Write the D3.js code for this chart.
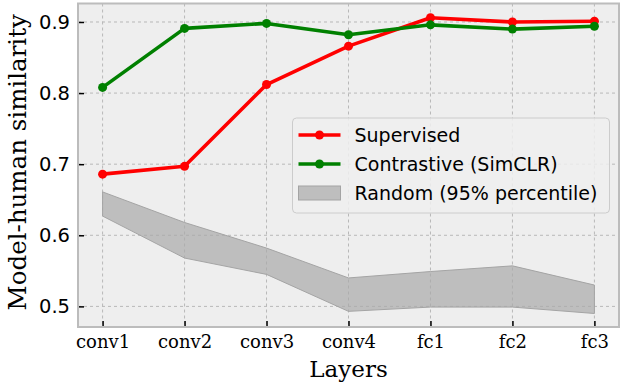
<!DOCTYPE html>
<html lang="en">
<head>
  <meta charset="UTF-8">
  <title>Model-human similarity by layer</title>
  <style>
    body { margin: 0; background: #fff; }
    .grid line { stroke: #b8b8b8; stroke-dasharray: 3,3; stroke-width: 1; }
    .tick line { stroke: #000; stroke-width: 1.5; }
    .domain { display: none; }
    .ytick text { font-family: "DejaVu Sans", sans-serif; font-size: 19.5px; fill: #000; }
    .xtick text { font-family: "DejaVu Serif", serif; font-size: 18px; fill: #000; }
    .label { font-family: "DejaVu Serif", serif; font-size: 23px; fill: #000; }
    .ylabel { font-size: 24.5px; }
    .legend text { font-family: "DejaVu Sans", sans-serif; font-size: 19px; fill: #000; }
  </style>
</head>
<body>
  <script src="https://d3js.org/d3.v7.min.js"></script>
  <script>
    // data
    const layers = ['conv1', 'conv2', 'conv3', 'conv4', 'fc1', 'fc2', 'fc3'];
    const supervised = [0.686, 0.697, 0.812, 0.866, 0.906, 0.900, 0.901];
    const contrastive = [0.808, 0.891, 0.898, 0.882, 0.896, 0.890, 0.894];
    const randomUpper = [0.661, 0.618, 0.582, 0.540, 0.549, 0.557, 0.530];
    const randomLower = [0.627, 0.568, 0.545, 0.493, 0.499, 0.499, 0.490];
    const yTicks = [0.5, 0.6, 0.7, 0.8, 0.9];

    const W = 624, H = 392;
    const margin = {top: 3.5, right: 5, bottom: 65, left: 78};
    const innerW = W - margin.left - margin.right;
    const innerH = H - margin.top - margin.bottom;

    const svg = d3.select('body').append('svg')
      .attr('width', W).attr('height', H);

    const x = d3.scaleLinear().domain([-0.3, 6.3]).range([0, innerW]);
    const y = d3.scaleLinear().domain([0.471, 0.926]).range([innerH, 0]);

    const g = svg.append('g').attr('transform', `translate(${margin.left},${margin.top})`);

    // background
    g.append('rect').attr('width', innerW).attr('height', innerH).attr('fill', '#eeeeee');

    // grid
    const grid = g.append('g').attr('class', 'grid');
    grid.selectAll('.gx').data(layers).enter().append('line')
      .attr('x1', (d, i) => x(i)).attr('x2', (d, i) => x(i))
      .attr('y1', 0).attr('y2', innerH);
    grid.selectAll('.gy').data(yTicks).enter().append('line')
      .attr('x1', 0).attr('x2', innerW)
      .attr('y1', d => y(d)).attr('y2', d => y(d));

    // random band
    const area = d3.area()
      .x((d, i) => x(i))
      .y0((d, i) => y(randomLower[i]))
      .y1(d => y(d));
    g.append('path').datum(randomUpper)
      .attr('d', area)
      .attr('fill', 'rgb(170,170,170)').attr('fill-opacity', 0.7)
      .attr('stroke', '#a4a4a4').attr('stroke-width', 1);

    // lines
    const line = d3.line().x((d, i) => x(i)).y(d => y(d));
    function drawSeries (data, color) {
      g.append('path').datum(data)
        .attr('d', line).attr('fill', 'none')
        .attr('stroke', color).attr('stroke-width', 3.6)
        .attr('stroke-linejoin', 'round');
      g.selectAll(null).data(data).enter().append('circle')
        .attr('cx', (d, i) => x(i)).attr('cy', d => y(d))
        .attr('r', 4.5).attr('fill', color);
    }
    drawSeries(supervised, '#ff0000');
    drawSeries(contrastive, '#008000');

    // axes (ticks inward)
    const xAxis = d3.axisBottom(x).tickValues(d3.range(layers.length))
      .tickFormat(i => layers[i]).tickSize(-6).tickPadding(8);
    g.append('g').attr('class', 'xtick')
      .attr('transform', `translate(0,${innerH})`).call(xAxis);

    const yAxis = d3.axisLeft(y).tickValues(yTicks)
      .tickFormat(d3.format('.1f')).tickSize(-6).tickPadding(8);
    g.append('g').attr('class', 'ytick').call(yAxis);

    // frame
    g.append('rect').attr('width', innerW).attr('height', innerH)
      .attr('fill', 'none').attr('stroke', '#bcbcbc').attr('stroke-width', 2);

    // axis labels
    svg.append('text').attr('class', 'label')
      .attr('x', margin.left + innerW / 2).attr('y', 377)
      .attr('text-anchor', 'middle').text('Layers');
    svg.append('text').attr('class', 'label ylabel')
      .attr('transform', `translate(26,${margin.top + innerH / 2 - 3}) rotate(-90)`)
      .attr('text-anchor', 'middle').text('Model-human similarity');

    // legend
    const lg = svg.append('g').attr('class', 'legend').attr('transform', 'translate(292.5,118)');
    lg.append('rect').attr('width', 317).attr('height', 95).attr('rx', 4)
      .attr('fill', '#efefef').attr('fill-opacity', 0.85)
      .attr('stroke', '#cccccc').attr('stroke-width', 1);
    const items = [
      {name: 'Supervised', color: '#ff0000', type: 'line'},
      {name: 'Contrastive (SimCLR)', color: '#008000', type: 'line'},
      {name: 'Random (95% percentile)', color: 'rgb(170,170,170)', type: 'patch'}
    ];
    items.forEach((it, i) => {
      const cy = 17 + i * 29;
      if (it.type === 'line') {
        lg.append('line').attr('x1', 6).attr('x2', 48).attr('y1', cy).attr('y2', cy)
          .attr('stroke', it.color).attr('stroke-width', 3.6);
        lg.append('circle').attr('cx', 27).attr('cy', cy).attr('r', 4.5).attr('fill', it.color);
      } else {
        lg.append('rect').attr('x', 6).attr('y', cy - 7).attr('width', 42).attr('height', 14)
          .attr('fill', it.color).attr('fill-opacity', 0.7)
          .attr('stroke', '#a4a4a4').attr('stroke-width', 1);
      }
      lg.append('text').attr('x', 62).attr('y', cy + 7).text(it.name);
    });
  </script>
</body>
</html>
